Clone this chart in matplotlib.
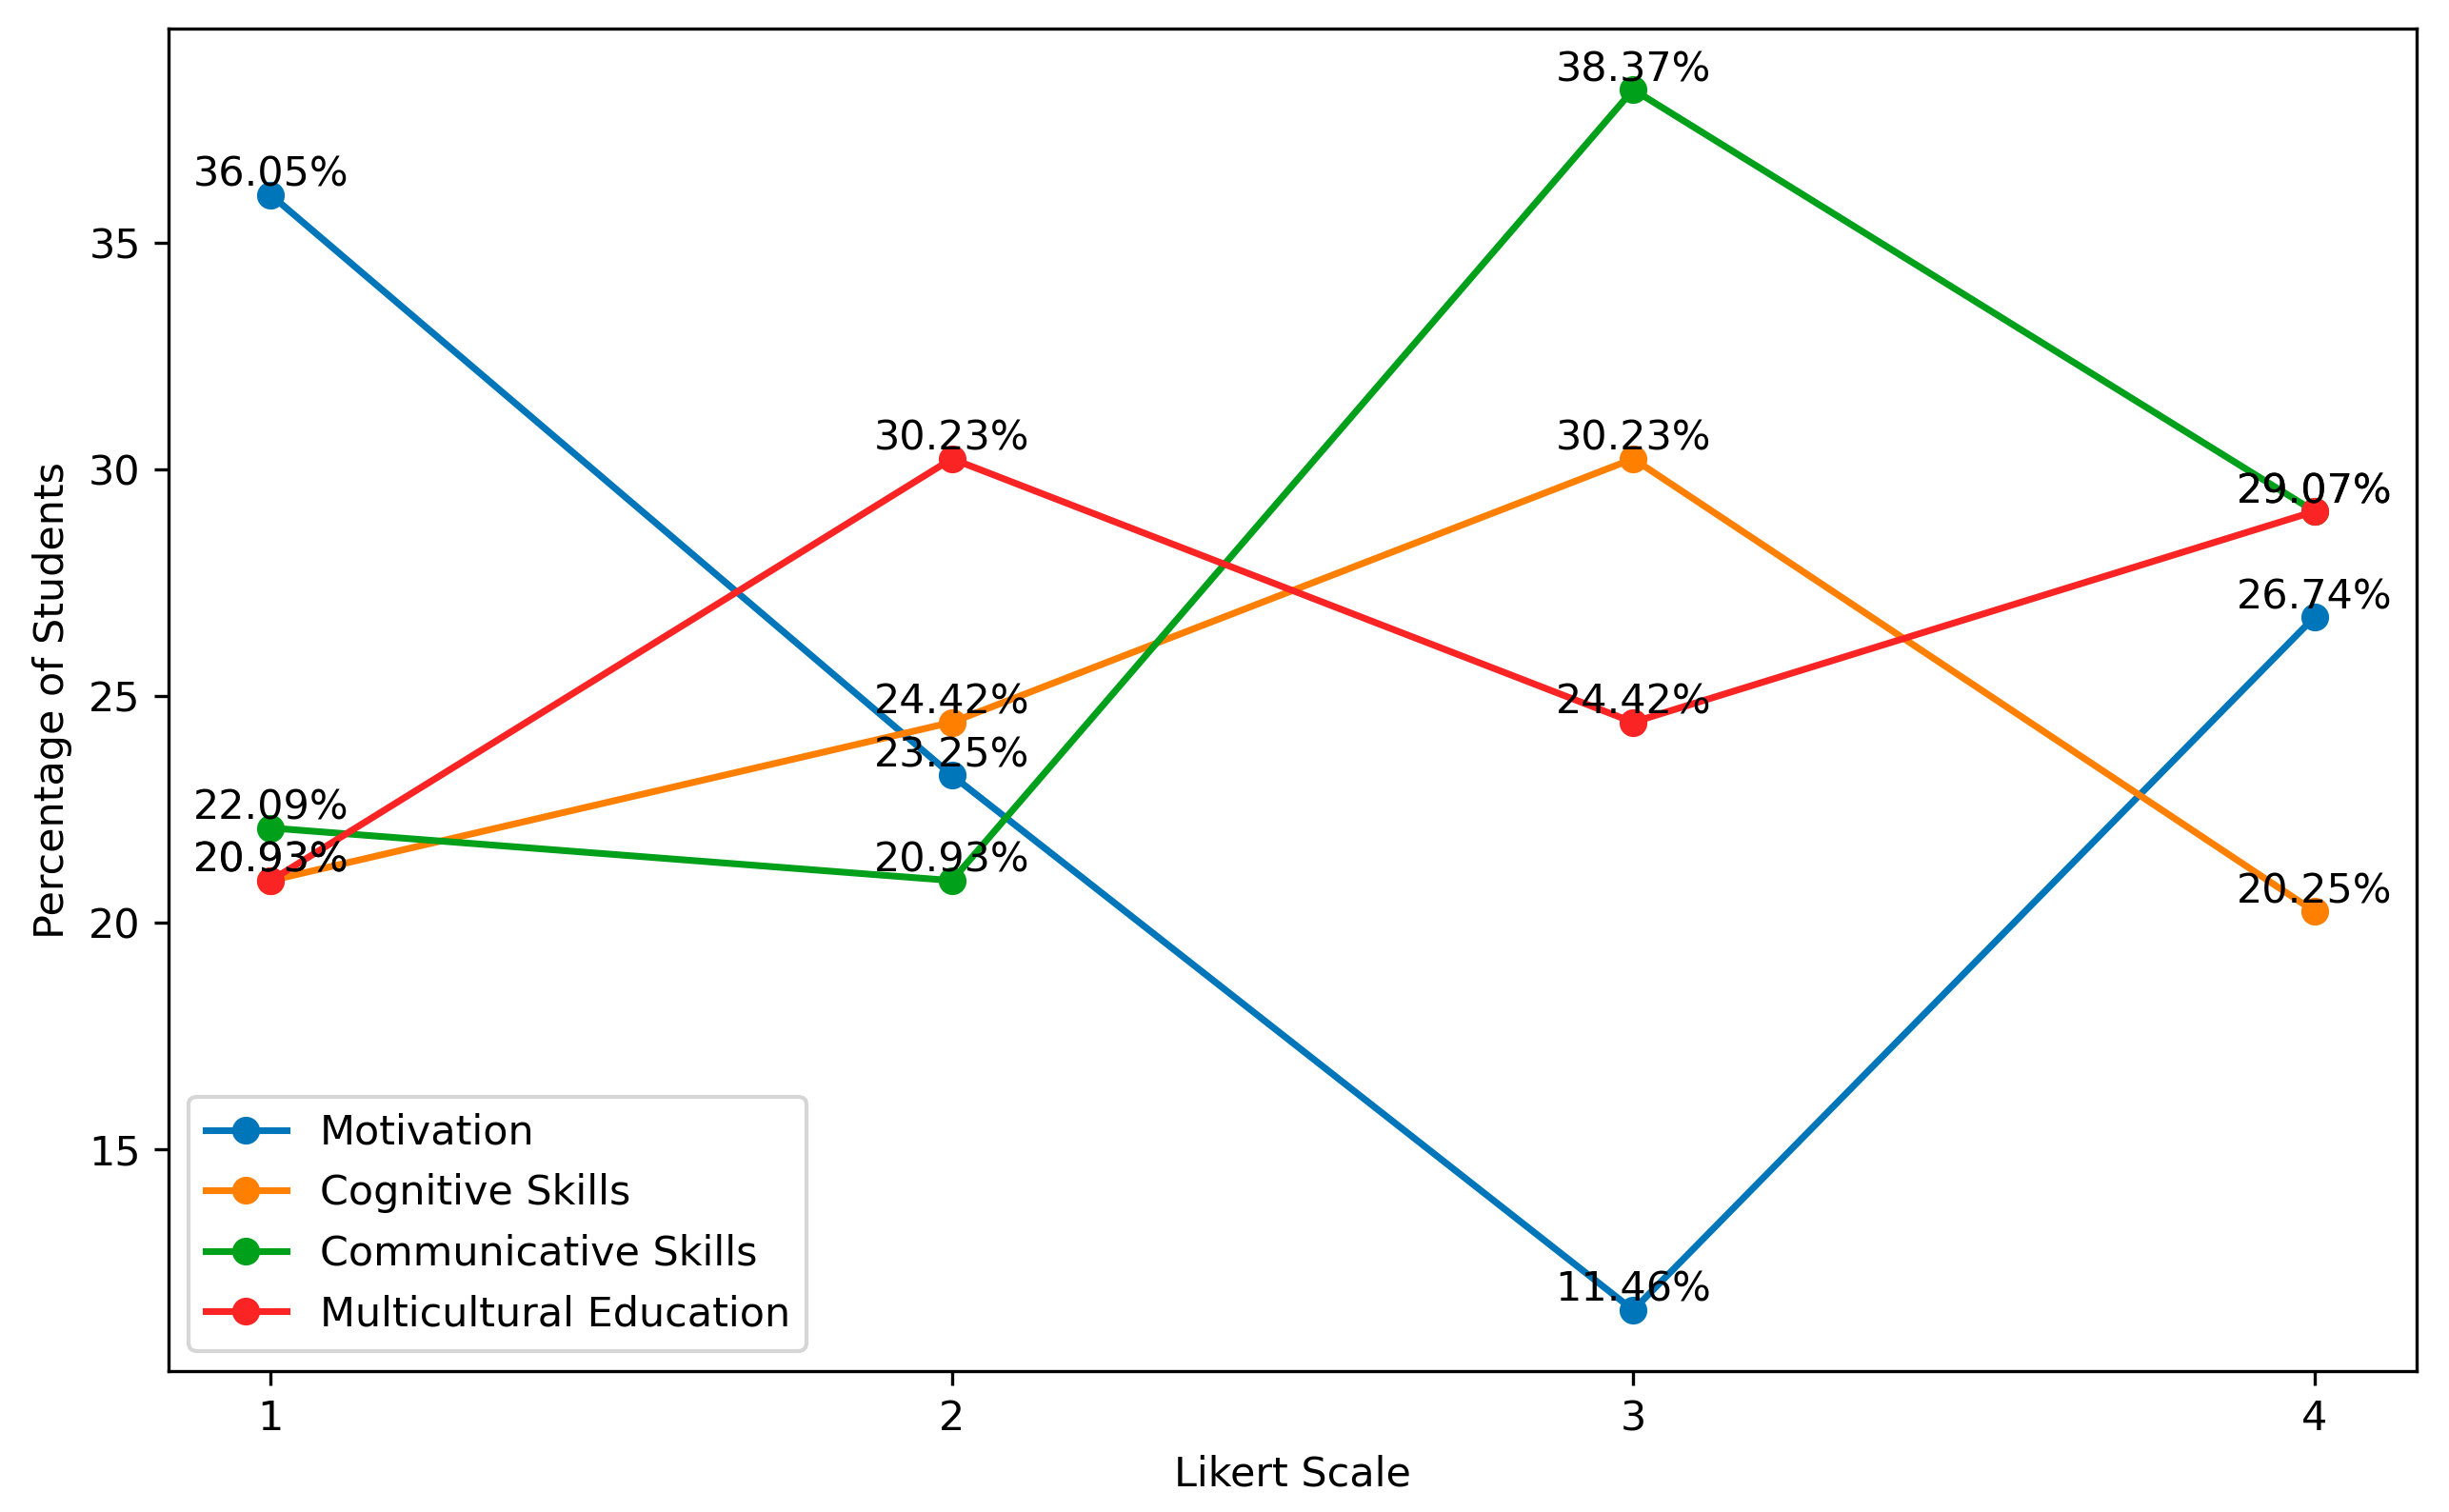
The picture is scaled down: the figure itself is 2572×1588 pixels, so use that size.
import numpy as np
import matplotlib.pyplot as plt

plt.rcParams['font.size'] = 10.3

# Likert scale points and percentage of students per dimension
likert = [1, 2, 3, 4]
motivation = [36.05, 23.25, 11.46, 26.74]
cognitive = [20.93, 24.42, 30.23, 20.25]
communicative = [22.09, 20.93, 38.37, 29.07]
multicultural = [20.93, 30.23, 24.42, 29.07]

series = [
    ("Motivation", motivation, "#0076BA"),
    ("Cognitive Skills", cognitive, "#FF7F00"),
    ("Communicative Skills", communicative, "#00A01A"),
    ("Multicultural Education", multicultural, "#FA2424"),
]

fig = plt.figure(figsize=(2572 / 300, 1588 / 300), dpi=300)
ax = fig.add_subplot(111)
fig.subplots_adjust(left=0.0688, right=0.9868, top=0.9811, bottom=0.0932)

for name, values, color in series:
    ax.plot(likert, values, marker="o", color=color, label=name, linewidth=1.7)
    for x, y in zip(likert, values):
        ax.text(x, y, f"{y:.2f}%", ha="center", va="bottom")

ax.set_xticks(likert)
ax.set_xlabel("Likert Scale")
ax.set_ylabel("Percentage of Students")
ax.legend(loc="lower left")

plt.savefig("out.png", dpi=300)
